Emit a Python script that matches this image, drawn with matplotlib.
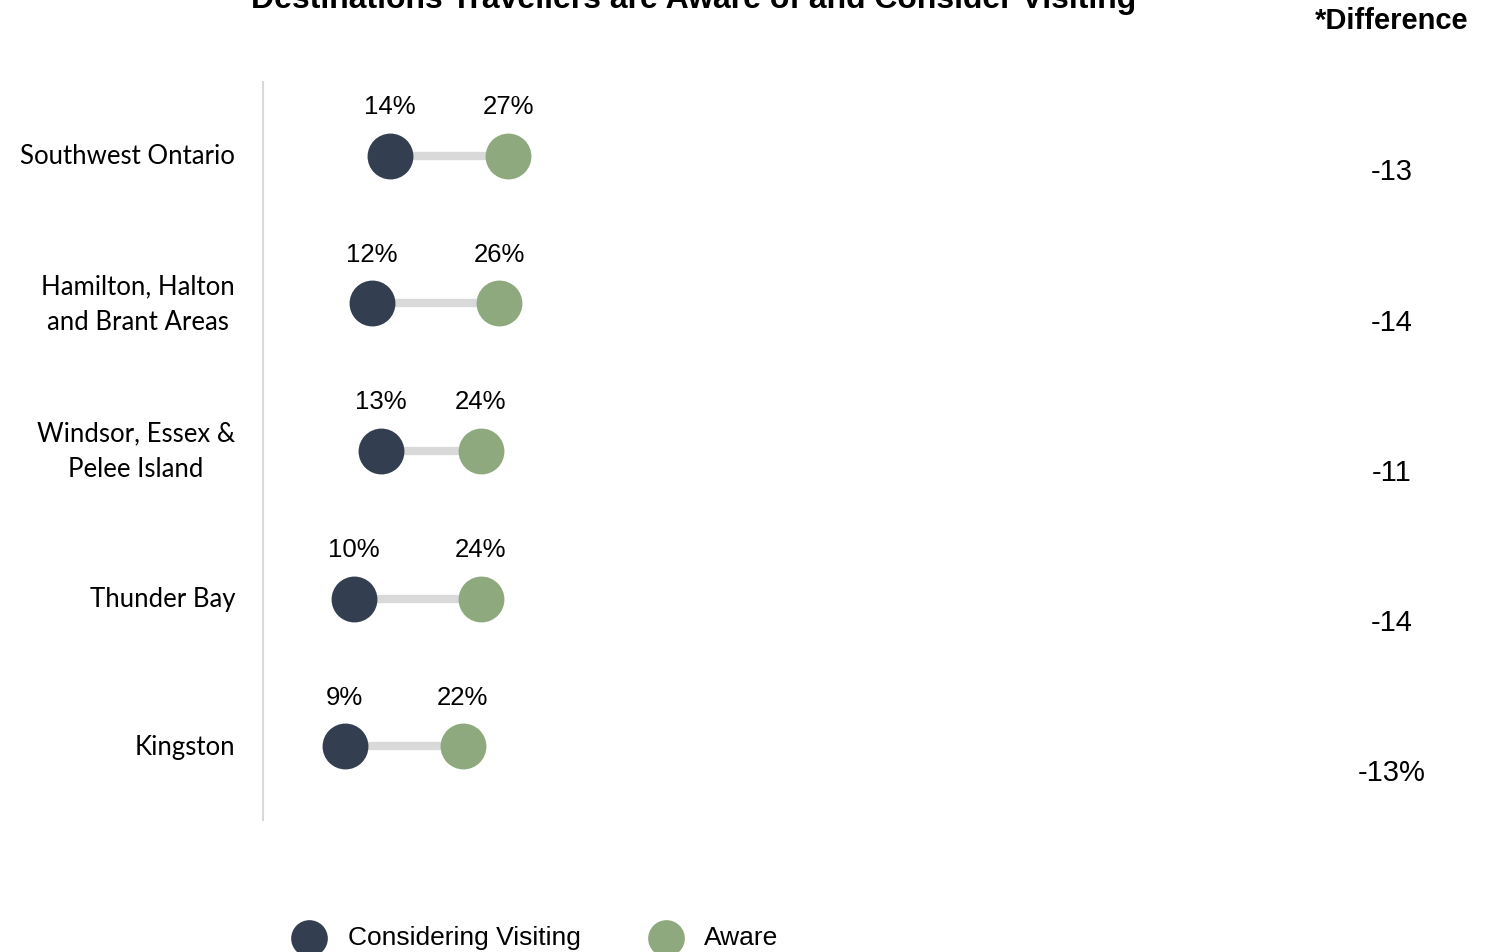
import numpy as np
import matplotlib.pyplot as plt
import matplotlib.transforms as mtransforms

# datos de la encuesta
destinos = ["Southwest Ontario", "Hamilton, Halton\nand Brant Areas",
            "Windsor, Essex &\nPelee Island", "Thunder Bay", "Kingston"]
considerando = [14, 12, 13, 10, 9]
conocen = [27, 26, 24, 24, 22]

color_consid = "#333f50"
color_conoce = "#8fa97f"
color_linea = "#d9d9d9"

fig = plt.figure(figsize=(15.01, 9.52), dpi=100)
ax = fig.add_axes([263 / 1501, 1 - 820 / 952, 908 / 1501, 738 / 952])

y = np.arange(len(destinos))

# barra gris que une los dos puntos
ax.hlines(y, considerando, conocen, color=color_linea, lw=6, zorder=1)
sc1 = ax.scatter(considerando, y, s=1090, color=color_consid, zorder=3,
                 linewidths=0, label="Considering Visiting")
sc2 = ax.scatter(conocen, y, s=1090, color=color_conoce, zorder=3,
                 linewidths=0, label="Aware")

for i in range(len(destinos)):
    for v in (considerando[i], conocen[i]):
        ax.annotate(f"{v}%", (v, i), xytext=(0, 35), textcoords="offset points",
                    ha="center", va="center", fontsize=18.5,
                    family="Liberation Sans")

ax.set_xlim(0, 100)
ax.set_ylim(len(destinos) - 0.5, -0.5)
ax.set_xticks([])
ax.set_yticks([])
for lado in ("top", "right", "bottom"):
    ax.spines[lado].set_visible(False)
ax.spines["left"].set_color(color_linea)
ax.spines["left"].set_linewidth(1.5)

# nombres de destino a la izquierda del eje
tr = mtransforms.offset_copy(ax.transData, fig, x=-28, y=-1, units="dots")
for i, nombre in enumerate(destinos):
    ax.text(0, i, nombre, transform=tr, ha="right", va="center",
            multialignment="center", fontsize=18.5, family="Lato",
            linespacing=1.55)

# columna de diferencias a la derecha
trans = mtransforms.blended_transform_factory(fig.transFigure, ax.transData)
difs = [c - a for c, a in zip(considerando, conocen)]
for i, d in enumerate(difs):
    txt = f"{d}%" if i == len(difs) - 1 else f"{d}"
    ax.text(1392 / 1501, i + 0.113 + 0.017 * i, txt, transform=trans,
            ha="center", va="center", fontsize=21, family="Liberation Sans")

fig.text(1392 / 1501, 1 - 21 / 952, "*Difference", ha="center", va="center",
         fontsize=21, fontweight="bold", family="Liberation Sans")
fig.text(694 / 1501, 1 - 8 / 952, "Destinations Travellers are Aware of and Consider Visiting",
         ha="center", va="baseline", fontsize=23, fontweight="bold",
         family="Liberation Sans")

fig.legend(handles=[sc1, sc2], loc="center left",
           bbox_to_anchor=(259 / 1501, 14 / 952), ncol=2, frameon=False,
           markerscale=0.8, handletextpad=0.46, columnspacing=2.22,
           prop={"family": "Liberation Sans", "size": 19})

fig.savefig("out.png", dpi=100)
plt.close(fig)
